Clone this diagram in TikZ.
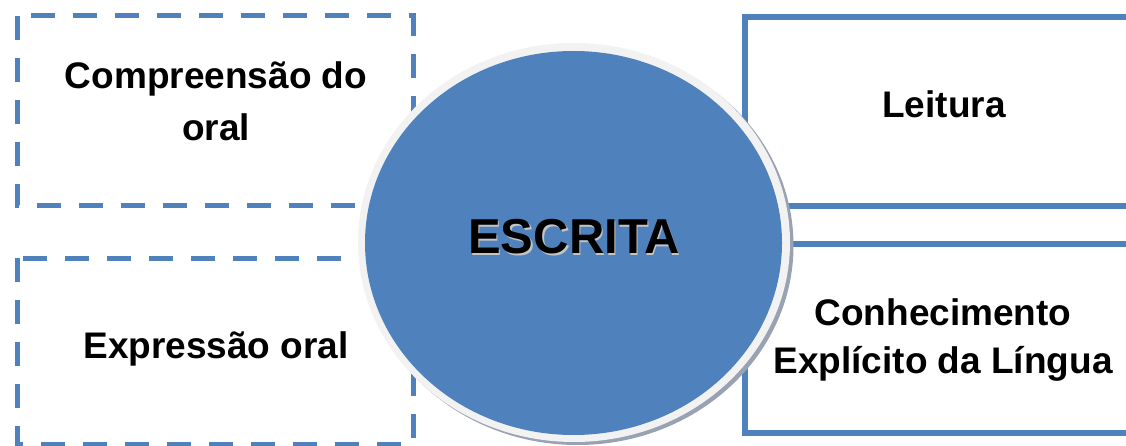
\documentclass[tikz,border=0pt]{standalone}
\usepackage{fontspec}
\setmainfont{Liberation Sans}
\usetikzlibrary{shapes.geometric}
\definecolor{officeblue}{HTML}{4F81BD}
\definecolor{ringgray}{HTML}{F2F2F2}
\definecolor{shadowgray}{HTML}{98A2B2}
\definecolor{textshadow}{HTML}{C4C4C4}
\begin{document}
\begin{tikzpicture}[x=1pt,y=-1pt,
  dashbox/.style={draw=officeblue,line width=5pt,dash pattern=on 24pt off 18pt},
  solidbox/.style={draw=officeblue,line width=5.5pt},
  label/.style={font=\fontsize{37}{52}\selectfont\bfseries,align=center,inner sep=0pt,anchor=base},
  labeltight/.style={label,font=\fontsize{37}{48}\selectfont\bfseries},
  titlefont/.style={font=\fontsize{49}{49}\selectfont\bfseries,inner sep=0pt,anchor=base}
]
\clip (0,0) rectangle (1126,446);
\fill[white] (0,0) rectangle (1126,446);
% boxes
\draw[dashbox] (17,16) rectangle (413,206);
\draw[dashbox] (17,258) rectangle (413,444);
\draw[solidbox] (745,17) rectangle (1145,206);
\draw[solidbox] (745,244) rectangle (1145,433);
% circle
\fill[shadowgray] (577.5,245.5) ellipse [x radius=216, y radius=199.5];
\fill[ringgray] (574,242.5) ellipse [x radius=216, y radius=199.5];
\node[ellipse,fill=officeblue,inner sep=0pt,minimum width=417pt,minimum height=384pt] (esc) at (573.5,243) {};
% texts (base anchor = baseline of last line)
\node[label] (comp) at (216,141) {Compreensão do\\oral};
\node[label] (expr) at (216,358) {Expressão oral};
\node[label] (leit) at (944,118) {Leitura};
\node[labeltight] (conh) at (943,373) {Conhecimento\\Explícito da Língua};
\node[titlefont,text=textshadow] (titleshadow) at (575.5,255.5) {ESCRITA};
\node[titlefont] (title) at (574,254) {ESCRITA};
\end{tikzpicture}
\end{document}
